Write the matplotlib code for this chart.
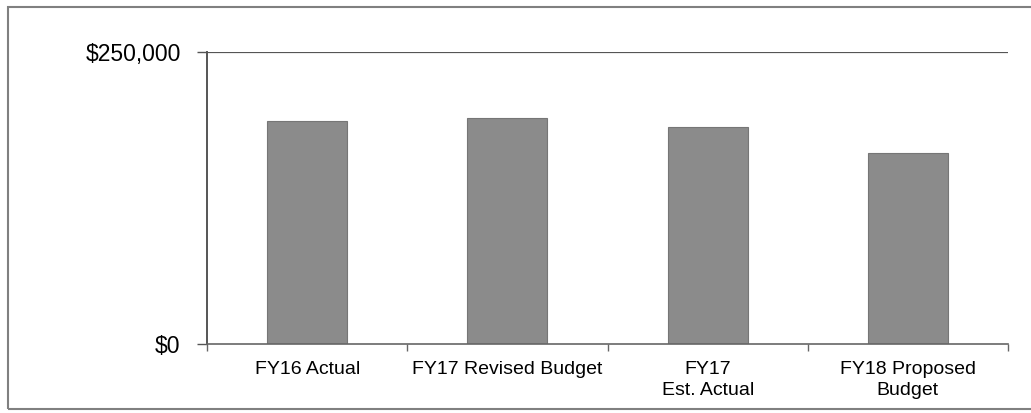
import matplotlib.pyplot as plt
from matplotlib.patches import Rectangle
from matplotlib.ticker import FuncFormatter, FixedLocator

# Budget totals by period (dollars)
categories = ["FY16 Actual", "FY17 Revised Budget", "FY17\nEst. Actual", "FY18 Proposed\nBudget"]
amounts = [191200, 193500, 186000, 163500]
y_ticks = [0, 250000]

plt.rcParams["font.family"] = ["Liberation Sans", "DejaVu Sans"]

fig = plt.figure(figsize=(10.31, 4.13), dpi=100)
ax = fig.add_axes([0.2008, 0.1671, 0.7769, 0.707])

x = range(len(categories))
ax.bar(x, amounts, width=0.4, color="#8b8b8b", edgecolor="#767676", linewidth=0.8, zorder=2)

ax.set_xlim(-0.5, len(categories) - 0.5)
ax.set_ylim(0, y_ticks[-1])
ax.set_yticks(y_ticks)
ax.yaxis.set_major_formatter(FuncFormatter(lambda v, _: f"${v:,.0f}"))
ax.tick_params(axis="y", length=7, width=1, color="#555555", pad=12, labelsize=16.5)

ax.set_xticks(list(x))
ax.set_xticklabels(categories, fontsize=14, linespacing=1.3)
ax.tick_params(axis="x", which="major", length=0, pad=12)
ax.xaxis.set_minor_locator(FixedLocator([i - 0.5 for i in range(len(categories) + 1)]))
ax.tick_params(axis="x", which="minor", length=5, width=1, color="#666666")

# horizontal rule at the top value
ax.axhline(y_ticks[-1], color="#555555", linewidth=1.6, zorder=1)

for side in ("top", "right"):
    ax.spines[side].set_visible(False)
ax.spines["left"].set_color("#555555")
ax.spines["left"].set_linewidth(1.4)
ax.spines["bottom"].set_color("#666666")
ax.spines["bottom"].set_linewidth(1.2)

# frame around the whole chart, open at the right edge
fig.add_artist(Rectangle((8 / 1031, 4 / 413), 1.05, 1 - 11 / 413,
                         transform=fig.transFigure, fill=False,
                         edgecolor="#808080", linewidth=1.5, clip_on=False))

fig.savefig("out.png", dpi=100)
